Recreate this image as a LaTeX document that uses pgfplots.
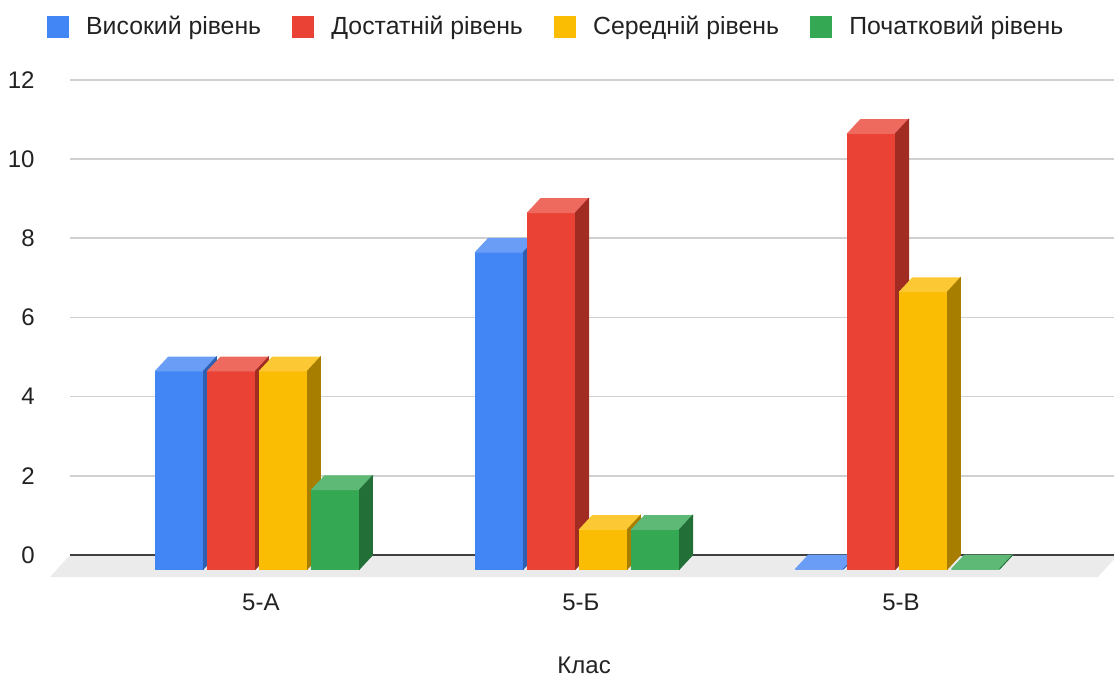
\documentclass[border=0pt]{standalone}
\usepackage{pgfplots}
\pgfplotsset{compat=1.18}
\usepackage{fontspec}
\setmainfont{Liberation Sans}
\definecolor{gblue}{HTML}{4285F4}
\definecolor{gbluetop}{HTML}{6A9EF6}
\definecolor{gblueside}{HTML}{2F5FB0}
\definecolor{gred}{HTML}{EA4335}
\definecolor{gredtop}{HTML}{EE6A5E}
\definecolor{gredside}{HTML}{A02C22}
\definecolor{gyellow}{HTML}{FBBC04}
\definecolor{gyellowtop}{HTML}{FCC934}
\definecolor{gyellowside}{HTML}{A87E00}
\definecolor{ggreen}{HTML}{34A853}
\definecolor{ggreentop}{HTML}{5DB975}
\definecolor{ggreenside}{HTML}{236F38}
\definecolor{floorgray}{HTML}{EBEBEB}
\definecolor{gridgray}{HTML}{D0D0D0}
\definecolor{txt}{HTML}{222222}
\pgfdeclareplotmark{nothing}{}
\pgfplotsset{
  bar3d/.style n args={3}{
    only marks, mark=nothing, scatter,
    visualization depends on={rawy \as \rawy},
    scatter/@pre marker code/.code={%
      \pgfmathsetmacro{\h}{\rawy*19.8}%
      \fill[#1] (-18.5pt,{-\h pt-7pt}) rectangle (5.5pt,-7pt);%
      \fill[#2] (-18.5pt,-7pt) -- (5.5pt,-7pt) -- (12pt,0pt) -- (-12pt,0pt) -- cycle;%
      \fill[#3] (5.5pt,-7pt) -- (12pt,0pt) -- (12pt,{-\h pt}) -- (5.5pt,{-\h pt-7pt}) -- cycle;%
    },
    scatter/@post marker code/.code={},
    legend image code/.code={\fill[#1] (0pt,-5.25pt) rectangle (10.5pt,5.25pt);},
  },
}
\begin{document}
\begin{tikzpicture}
\path[use as bounding box] (0,0) rectangle (557pt,338pt);
\begin{axis}[
  at={(35pt,60.5pt)}, anchor=south west,
  scale only axis, x=160pt, y=19.8pt,
  xmin=-0.6266, xmax=2.648, ymin=0, ymax=12,
  clip=false,
  axis line style={draw=none},
  tick style={draw=none},
  major tick length=0pt,
  ytick={0,2,...,12},
  ymajorgrids,
  grid style={color=gridgray, line width=0.75pt},
  xtick={-0.03,0.97,1.97},
  xticklabels={5-А,5-Б,5-В},
  /pgf/number format/assume math mode=true,
  tick label style={font=\fontsize{12}{14}\selectfont, text=txt, inner sep=0pt},
  yticklabel style={anchor=east, xshift=-17.5pt},
  xticklabel style={anchor=base, yshift=-27.5pt},
  xlabel={Клас},
  xlabel style={at={(axis description cs:0.4906,0)}, anchor=base, yshift=-59pt, inner sep=0pt, font=\fontsize{12}{14}\selectfont, text=txt},
  legend style={at={(axis description cs:0.4648,1.111)}, anchor=center, draw=none, fill=none,
    inner sep=0pt, font=\fontsize{12.4}{14}\selectfont, text=txt,
    /tikz/every odd column/.append style={column sep=6.75pt},
    /tikz/every even column/.append style={column sep=13.5pt}},
  legend columns=-1,
  legend cell align=left,
]
\addplot[fill=floorgray, draw=none, forget plot] coordinates {(-0.6266,0) (2.648,0) (2.5855,-0.5556) (-0.6891,-0.5556)};
\addplot[color=black!75, line width=1pt, forget plot] coordinates {(-0.6266,0) (2.648,0)};
\addplot[bar3d={gblue}{gbluetop}{gblueside}] coordinates {(-0.244,5) (0.756,8) (1.756,0)};
\addlegendentry{Високий рівень}
\addplot[bar3d={gred}{gredtop}{gredside}] coordinates {(-0.081,5) (0.919,9) (1.919,11)};
\addlegendentry{Достатній рівень}
\addplot[bar3d={gyellow}{gyellowtop}{gyellowside}] coordinates {(0.081,5) (1.081,1) (2.081,7)};
\addlegendentry{Середній рівень}
\addplot[bar3d={ggreen}{ggreentop}{ggreenside}] coordinates {(0.244,2) (1.244,1) (2.244,0)};
\addlegendentry{Початковий рівень}
\end{axis}
\end{tikzpicture}
\end{document}
